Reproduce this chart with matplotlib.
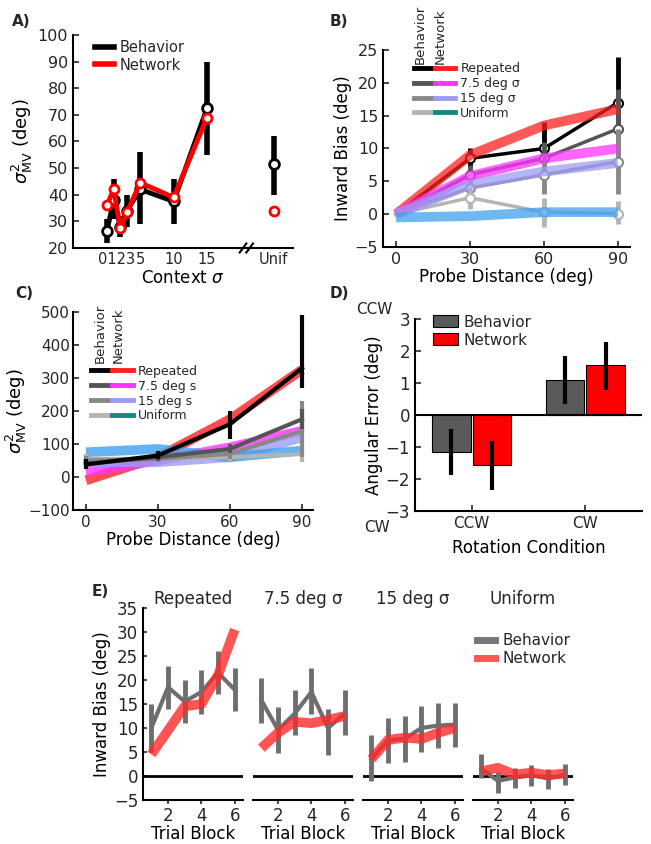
import numpy as np
import matplotlib
matplotlib.use('Agg')
import matplotlib.pyplot as plt
from matplotlib.lines import Line2D
from matplotlib.legend_handler import HandlerTuple

plt.rcParams['font.family'] = 'DejaVu Sans'
plt.rcParams['font.size'] = 11
plt.rcParams['axes.linewidth'] = 1.5
plt.rcParams['xtick.major.width'] = 1.2
plt.rcParams['ytick.major.width'] = 1.2
plt.rcParams['text.color'] = '#262626'
plt.rcParams['xtick.color'] = '#262626'
plt.rcParams['ytick.color'] = '#262626'

# ---------- data ----------
# A) variance vs context sigma
a_sigma = [0, 1, 2, 3, 5, 10, 15]
a_beh = [26.5, 38, 28, 34, 42, 37.5, 72.5]
a_beh_lo = [22, 31, 24, 28, 29, 29, 55]
a_beh_hi = [31, 46, 32, 40, 56, 46, 90]
a_net = [36, 42, 27.5, 33.5, 44.5, 39, 69]
a_unif_x = 25
a_beh_unif = 51.5
a_beh_unif_lo = 40
a_beh_unif_hi = 62
a_net_unif = 34
a_ticks = [1.5, 5, 10, 15, 25]
a_ticklabels = ['0123', '5', '10', '15', 'Unif']

# B) inward bias vs probe distance
probe = [0, 30, 60, 90]
conditions = ['Repeated', '7.5 deg σ', '15 deg σ', 'Uniform']
beh_colors = ['#000000', '#555555', '#888888', '#b4b4b4']
net_colors = ['#ff2020', '#ff33ff', '#9c9cf5', '#3fa0ee']
net_legend_colors = ['#ff2020', '#ff33ff', '#9c9cf5', '#138a80']
b_beh = [[0, 8.5, 10, 17], [0, 6, 8.5, 13], [0, 4, 6, 8], [0, 2.5, 0.3, 0.1]]
b_beh_lo = [[0, 7, 8, 10], [0, 4.5, 6, 7], [0, 2.5, 3, 3], [0, 0.8, -2, -1.5]]
b_beh_hi = [[0, 10, 14, 24], [0, 7.5, 11, 19], [0, 5.5, 9, 13], [0, 4, 2.5, 2]]
b_net = [[0, 9, 13.5, 16], [0, 5.8, 8.5, 10], [0, 4.5, 6.5, 7.8], [-0.5, -0.3, 0.3, 0.3]]

# C) variance vs probe distance
c_labels = ['Repeated', '7.5 deg s', '15 deg s', 'Uniform']
c_beh = [[38, 65, 160, 330], [40, 60, 85, 175], [50, 55, 70, 140], [55, 55, 60, 70]]
c_beh_lo = [[25, 55, 115, 270], [30, 50, 72, 145], [35, 45, 55, 60], [40, 45, 50, 45]]
c_beh_hi = [[55, 80, 200, 490], [55, 70, 100, 205], [65, 65, 85, 230], [70, 65, 75, 95]]
c_net = [[-10, 60, 175, 325], [15, 50, 90, 140], [45, 45, 60, 120], [75, 85, 60, 80]]

# D) angular error by rotation condition
d_conds = ['CCW', 'CW']
d_beh = [-1.17, 1.1]
d_beh_lo = [-1.88, 0.35]
d_beh_hi = [-0.45, 1.85]
d_net = [-1.57, 1.55]
d_net_lo = [-2.35, 0.78]
d_net_hi = [-0.8, 2.28]

# E) inward bias by trial block
blocks = [1, 2, 3, 4, 5, 6]
e_titles = ['Repeated', '7.5 deg σ', '15 deg σ', 'Uniform']
e_beh = [[10, 18.5, 15.5, 17.5, 21.5, 18],
         [15.8, 9.6, 13, 17.5, 10, 13],
         [3.5, 7.5, 7.7, 10, 10.5, 10.7],
         [1.5, -1, -0.3, 0.2, -0.5, 0.2]]
e_beh_lo = [[5, 14, 11, 13, 17, 13.5],
            [11, 4.8, 8.5, 13, 4.4, 8.5],
            [-1, 2.7, 3, 5, 5.8, 6],
            [-0.5, -3.5, -2.5, -2, -2.8, -1.8]]
e_beh_hi = [[15, 23, 20, 22, 26, 22.5],
            [20.4, 14.4, 18, 22.5, 14, 18],
            [8.5, 12, 12.5, 14.6, 15.2, 15.2],
            [4.5, 0.8, 1.7, 2.2, 1.5, 2.5]]
e_net = [[4.5, 9.5, 14.5, 15, 21, 30.5],
         [5.8, 9, 11.3, 11, 11.7, 12.5],
         [3.5, 7.5, 8, 7.7, 9, 10],
         [1, 1.7, 0.3, 0.7, 0.2, 0.5]]

W, H = 651, 844
fig = plt.figure(figsize=(W / 100, H / 100), dpi=100)


def rect(x0, x1, ytop, ybot):
    return [x0 / W, 1 - ybot / H, (x1 - x0) / W, (ybot - ytop) / H]


def clean(ax):
    ax.spines['top'].set_visible(False)
    ax.spines['right'].set_visible(False)


def err(ax, x, y, lo, hi, color, lw):
    y = np.asarray(y, float)
    yerr = [y - np.asarray(lo, float), np.asarray(hi, float) - y]
    ax.errorbar(x, y, yerr=yerr, fmt='none', ecolor=color, elinewidth=lw, capsize=0)


# ---------- A ----------
axA = fig.add_axes(rect(73, 293, 35, 248))
clean(axA)
err(axA, a_sigma, a_beh, a_beh_lo, a_beh_hi, 'black', 4)
err(axA, [a_unif_x], [a_beh_unif], [a_beh_unif_lo], [a_beh_unif_hi], 'black', 4)
axA.plot(a_sigma, a_beh, color='black', lw=3.5, marker='o', ms=7, mfc='white', mec='black', mew=2)
axA.plot([a_unif_x], [a_beh_unif], ls='none', marker='o', ms=7, mfc='white', mec='black', mew=2)
axA.plot(a_sigma, a_net, color='#ff0000', lw=3.5, marker='o', ms=6.5, mfc='white', mec='#ff0000', mew=2)
axA.plot([a_unif_x], [a_net_unif], ls='none', marker='o', ms=6.5, mfc='white', mec='#ff0000', mew=2)
axA.set_xlim(-5.1, 27.9)
axA.set_ylim(20, 100)
axA.set_yticks(range(20, 101, 10))
axA.set_xticks(a_ticks)
axA.set_xticklabels(a_ticklabels)
axA.tick_params(axis='x', length=0, pad=3, labelsize=10.5)
axA.tick_params(axis='y', direction='in', length=4, labelsize=11.5)
for dx in (-0.4, 0.6):
    axA.plot([20.3 + dx, 21.3 + dx], [18.3, 21.7], color='black', lw=1.5, clip_on=False)
axA.set_ylabel(r'$\sigma^2_{\rm MV}$ (deg)', fontsize=13, labelpad=2)
axA.set_xlabel(r'Context $\sigma$', fontsize=12, labelpad=1)
axA.legend(handles=[Line2D([], [], color='black', lw=4), Line2D([], [], color='#ff0000', lw=4)],
           labels=['Behavior', 'Network'], loc='upper left', bbox_to_anchor=(0.04, 1.04),
           frameon=False, handlelength=1.3, handletextpad=0.4, labelspacing=0.2, fontsize=10.5)

# ---------- B ----------
axB = fig.add_axes(rect(383, 630, 50, 247))
clean(axB)
for i in range(4):
    err(axB, probe[1:], b_beh[i][1:], b_beh_lo[i][1:], b_beh_hi[i][1:], beh_colors[i], 3.5)
    axB.plot(probe, b_beh[i], color=beh_colors[i], lw=2.5, marker='o', markevery=[1, 2, 3],
             ms=6.5, mfc='white', mec=beh_colors[i], mew=1.5)
for i in range(4):
    axB.plot(probe, b_net[i], color=net_colors[i], lw=7, alpha=0.75, solid_capstyle='butt')
axB.set_xlim(-5.3, 94.9)
axB.set_ylim(-5, 25)
axB.set_xticks(probe)
axB.set_yticks(range(-5, 26, 5))
axB.tick_params(direction='in', length=4, labelsize=11.5)
axB.set_xlabel('Probe Distance (deg)', fontsize=12, labelpad=1)
axB.set_ylabel('Inward Bias (deg)', fontsize=12, labelpad=2)
hB = [(Line2D([], [], color=beh_colors[i], lw=3.5), Line2D([], [], color=net_legend_colors[i], lw=3.5))
      for i in range(4)]
axB.legend(hB, conditions, handler_map={tuple: HandlerTuple(ndivide=None, pad=0)},
           loc='upper left', bbox_to_anchor=(0.08, 0.995), frameon=False, handlelength=3.3,
           handletextpad=0.4, labelspacing=0.15, fontsize=9)
axB.text(0.15, 0.93, 'Behavior', rotation=90, ha='center', va='bottom', fontsize=9.5,
         transform=axB.transAxes, clip_on=False)
axB.text(0.23, 0.93, 'Network', rotation=90, ha='center', va='bottom', fontsize=9.5,
         transform=axB.transAxes, clip_on=False)

# ---------- C ----------
axC = fig.add_axes(rect(73, 313, 312, 510))
clean(axC)
for i in range(4):
    axC.plot(probe, c_net[i], color=net_colors[i], lw=7, alpha=0.8, solid_capstyle='butt')
for i in [3, 2, 1, 0]:
    err(axC, probe, c_beh[i], c_beh_lo[i], c_beh_hi[i], beh_colors[i], 3)
    axC.plot(probe, c_beh[i], color=beh_colors[i], lw=3)
axC.set_xlim(-5.4, 94.6)
axC.set_ylim(-100, 500)
axC.set_xticks(probe)
axC.set_yticks(range(-100, 501, 100))
axC.tick_params(direction='in', length=4, labelsize=11)
axC.tick_params(axis='y', pad=2)
axC.set_xlabel('Probe Distance (deg)', fontsize=12, labelpad=1)
axC.set_ylabel(r'$\sigma^2_{\rm MV}$ (deg)', fontsize=13, labelpad=0)
hC = [(Line2D([], [], color=beh_colors[i], lw=3.5), Line2D([], [], color=net_legend_colors[i], lw=3.5))
      for i in range(4)]
axC.legend(hC, c_labels, handler_map={tuple: HandlerTuple(ndivide=None, pad=0)},
           loc='upper left', bbox_to_anchor=(0.03, 0.79), frameon=False, handlelength=3.3,
           handletextpad=0.4, labelspacing=0.15, fontsize=9)
axC.text(0.115, 0.74, 'Behavior', rotation=90, ha='center', va='bottom', fontsize=9.5,
         transform=axC.transAxes)
axC.text(0.19, 0.74, 'Network', rotation=90, ha='center', va='bottom', fontsize=9.5,
         transform=axC.transAxes)

# ---------- D ----------
axD = fig.add_axes(rect(415, 642, 319, 511))
clean(axD)
xd = np.arange(len(d_conds))
bw = 0.34
axD.bar(xd - 0.18, d_beh, bw, color='#5a5a5a', edgecolor='black', lw=0.8, label='Behavior')
axD.bar(xd + 0.18, d_net, bw, color='#ff0000', edgecolor='black', lw=0.8, label='Network')
err(axD, xd - 0.18, d_beh, d_beh_lo, d_beh_hi, 'black', 3)
err(axD, xd + 0.18, d_net, d_net_lo, d_net_hi, 'black', 3)
axD.axhline(0, color='black', lw=1.5)
axD.set_xlim(-0.5, 1.5)
axD.set_ylim(-3, 3)
axD.set_xticks(xd)
axD.set_xticklabels(d_conds)
axD.set_yticks(range(-3, 4))
axD.set_yticklabels(['\u22123', '\u22122', '\u22121', '0', '1', '2', '3'])
axD.tick_params(direction='in', length=4)
axD.tick_params(axis='y', labelsize=12)
axD.tick_params(axis='x', labelsize=11)
axD.set_xlabel('Rotation Condition', fontsize=12, labelpad=6)
axD.set_ylabel('Angular Error (deg)', fontsize=12, labelpad=2)
axD.text(-0.10, 1.052, 'CCW', ha='right', va='center', fontsize=11, transform=axD.transAxes)
axD.text(-0.11, -0.085, 'CW', ha='right', va='center', fontsize=11, transform=axD.transAxes)
axD.legend(loc='upper left', bbox_to_anchor=(0.02, 1.095), frameon=False, handlelength=1.6,
           handleheight=0.8, handletextpad=0.4, labelspacing=0.2, fontsize=11)

# ---------- E ----------
e_left = [143, 253, 363, 473]
axesE = []
for k in range(4):
    ax = fig.add_axes(rect(e_left[k], e_left[k] + 100, 608, 800))
    clean(ax)
    ax.axhline(0, color='black', lw=2)
    err(ax, blocks, e_beh[k], e_beh_lo[k], e_beh_hi[k], '#6e6e6e', 3.5)
    ax.plot(blocks, e_beh[k], color='#6e6e6e', lw=3)
    ax.plot(blocks, e_net[k], color='#ff2a2a', lw=7, alpha=0.8, solid_capstyle='butt')
    ax.set_xlim(0.5, 6.5)
    ax.set_ylim(-5, 35)
    ax.set_xticks([2, 4, 6])
    ax.tick_params(axis='x', direction='out', length=3, labelsize=12, pad=2)
    ax.set_xlabel('Trial Block', fontsize=12, labelpad=0)
    ax.set_title(e_titles[k], fontsize=12, pad=-2)
    if k == 0:
        ax.set_yticks(range(-5, 36, 5))
        ax.set_yticklabels(['\u22125'] + [str(v) for v in range(0, 36, 5)])
        ax.tick_params(axis='y', direction='in', length=3, labelsize=12)
        ax.set_ylabel('Inward Bias (deg)', fontsize=12, labelpad=2)
    else:
        ax.spines['left'].set_visible(False)
        ax.set_yticks([])
    axesE.append(ax)
axesE[3].legend(handles=[Line2D([], [], color='#777777', lw=5), Line2D([], [], color='#ff2a2a', lw=5, alpha=0.8)],
                labels=['Behavior', 'Network'], loc='upper left', bbox_to_anchor=(-0.1, 0.94),
                frameon=False, handlelength=1.2, handletextpad=0.5, labelspacing=0.2, fontsize=11)

# panel letters
for lab, x, y in [('A)', 12, 22), ('B)', 330, 22), ('C)', 15, 294), ('D)', 330, 293), ('E)', 92, 591)]:
    fig.text(x / W, 1 - y / H, lab, fontsize=11, fontweight='bold', ha='left', va='center')

fig.savefig('out.png', dpi=100)
